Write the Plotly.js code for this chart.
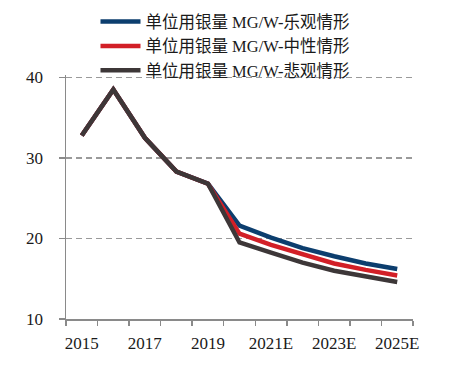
<!DOCTYPE html>
<html>
<head>
<meta charset="utf-8">
<script src="https://cdn.plot.ly/plotly-3.0.1.min.js"></script>
<style>html,body{margin:0;padding:0;background:#fff;}#chart{width:468px;height:371px;}</style>
</head>
<body>
<div id="chart"></div>
<script>
var categories = ['2015','2016','2017','2018','2019','2020E','2021E','2022E','2023E','2024E','2025E'];
var tickLabels = ['2015','','2017','','2019','','2021E','','2023E','','2025E'];
var seriesNames = ['单位用银量 MG/W-乐观情形','单位用银量 MG/W-中性情形','单位用银量 MG/W-悲观情形'];
var optimistic = [32.8, 38.5, 32.5, 28.3, 26.8, 21.6, 20.1, 18.8, 17.8, 16.9, 16.2];
var neutral    = [32.8, 38.5, 32.5, 28.3, 26.8, 20.6, 19.2, 18.0, 16.9, 16.1, 15.4];
var pessimistic= [32.8, 38.5, 32.5, 28.3, 26.8, 19.5, 18.25, 17.0, 16.0, 15.3, 14.6];
var colors = ['#0c3e6e', '#d21f27', '#3d3738'];
var serif = '"Liberation Serif", "Noto Sans CJK SC", serif';

var series = [optimistic, neutral, pessimistic];
var traces = series.map(function(vals, i){
  return {
    x: categories, y: vals, type: 'scatter', mode: 'lines',
    name: seriesNames[i],
    line: {color: colors[i], width: 4.5}
  };
});

var layout = {
  width: 468, height: 371,
  margin: {l: 66, r: 55, t: 74.9, b: 51.5, autoexpand: false},
  paper_bgcolor: '#fff', plot_bgcolor: '#fff',
  font: {family: serif, color: '#1a1a1a', size: 17},
  showlegend: true,
  legend: {
    x: 0.085, y: 1.29, xanchor: 'left', yanchor: 'top',
    bgcolor: 'rgba(0,0,0,0)',
    font: {family: serif, size: 16.5, color: '#1a1a1a'},
    itemwidth: 40, tracegroupgap: 0
  },
  xaxis: {
    type: 'category',
    range: [-0.5, 10.5],
    tickmode: 'array', tickvals: categories, ticktext: tickLabels,
    tickson: 'boundaries', tickangle: 0,
    ticks: 'outside', ticklen: 5, tickcolor: '#8a8a8a', tickwidth: 1.5,
    showline: true, linecolor: '#8a8a8a', linewidth: 1.5,
    showgrid: false, zeroline: false,
    tickfont: {family: serif, size: 17, color: '#1a1a1a'},
    ticklabelstandoff: 8
  },
  yaxis: {
    range: [10, 40.3], tick0: 10, dtick: 10,
    ticks: 'outside', ticklen: 6, tickcolor: '#8a8a8a', tickwidth: 1.5,
    showline: true, linecolor: '#8a8a8a', linewidth: 1.5,
    showgrid: true, gridcolor: '#9a9a9a', gridwidth: 1.2, griddash: '6px,4px',
    zeroline: false,
    tickfont: {family: serif, size: 17, color: '#1a1a1a'},
    ticklabelstandoff: 12
  }
};

Plotly.newPlot('chart', traces, layout, {displayModeBar: false, staticPlot: true});
</script>
</body>
</html>
